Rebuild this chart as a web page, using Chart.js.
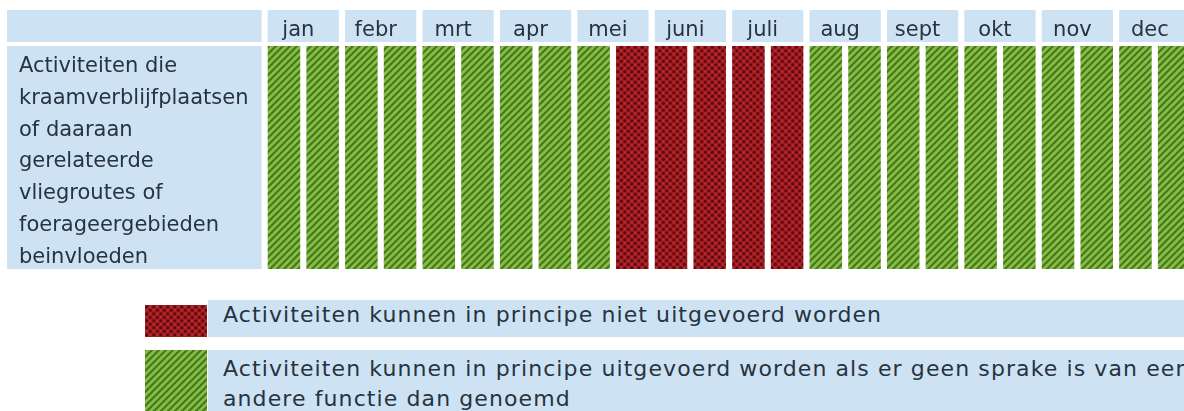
<!DOCTYPE html>
<html>
<head>
<meta charset="utf-8">
<script src="https://cdn.jsdelivr.net/npm/chart.js@4.4.1/dist/chart.umd.min.js"></script>
<style>
  html, body { margin: 0; padding: 0; background: #fff; }
  body { width: 1184px; height: 411px; overflow: hidden; position: relative; font-family: 'DejaVu Sans', Verdana, sans-serif; }
  #chartWrap { position: absolute; left: 0; top: 0; width: 1200px; height: 280px; }
  .legend-row { position: absolute; left: 208px; width: 1000px; background: #cde3f4; color: #27333f;
    font-size: 22px; letter-spacing: 1.1px; white-space: nowrap; line-height: 30px; padding-left: 15px; box-sizing: border-box; }
  .legend-swatch { position: absolute; left: 145px; width: 62px; }
</style>
</head>
<body>
<div id="chartWrap"><canvas id="chart" width="1200" height="280"></canvas></div>
<div id="legend"></div>
<script>
const months = ['jan', 'febr', 'mrt', 'apr', 'mei', 'juni', 'juli', 'aug', 'sept', 'okt', 'nov', 'dec'];
const halfMonths = [
  'jan I', 'jan II', 'febr I', 'febr II', 'mrt I', 'mrt II', 'apr I', 'apr II',
  'mei I', 'mei II', 'juni I', 'juni II', 'juli I', 'juli II', 'aug I', 'aug II',
  'sept I', 'sept II', 'okt I', 'okt II', 'nov I', 'nov II', 'dec I', 'dec II'
];
// 1 = period marked, 0 = not
const nietUitvoerbaar = [0, 0, 0, 0, 0, 0, 0, 0, 0, 1, 1, 1, 1, 1, 0, 0, 0, 0, 0, 0, 0, 0, 0, 0];
const uitvoerbaar     = [1, 1, 1, 1, 1, 1, 1, 1, 1, 0, 0, 0, 0, 0, 1, 1, 1, 1, 1, 1, 1, 1, 1, 1];
const rowLabel = [
  'Activiteiten die',
  'kraamverblijfplaatsen',
  'of daaraan',
  'gerelateerde',
  'vliegroutes of',
  'foerageergebieden',
  'beinvloeden'
];
const legendRed = ['Activiteiten kunnen in principe niet uitgevoerd worden'];
const legendGreen = [
  'Activiteiten kunnen in principe uitgevoerd worden als er geen sprake is van een',
  'andere functie dan genoemd'
];

const panelBlue = '#cde3f4';
const textColor = '#27333f';

function makeHatch(ctx) {
  const c = document.createElement('canvas');
  c.width = c.height = 7;
  const g = c.getContext('2d');
  g.fillStyle = '#84be40';
  g.fillRect(0, 0, 7, 7);
  g.strokeStyle = '#467522';
  g.lineWidth = 2;
  g.beginPath();
  g.moveTo(-1, 8); g.lineTo(8, -1);
  g.moveTo(-1, 1); g.lineTo(1, -1);
  g.moveTo(6, 8); g.lineTo(8, 6);
  g.stroke();
  return ctx.createPattern(c, 'repeat');
}

function makeCheck(ctx) {
  const c = document.createElement('canvas');
  c.width = c.height = 7;
  const g = c.getContext('2d');
  g.fillStyle = '#a11c21';
  g.fillRect(0, 0, 7, 7);
  g.fillStyle = '#5c0a0e';
  [[1.75, 1.75], [5.25, 5.25]].forEach(([x, y]) => {
    g.beginPath(); g.arc(x, y, 1.5, 0, Math.PI * 2); g.fill();
  });
  g.fillStyle = '#bd3035';
  [[5.25, 1.75], [1.75, 5.25]].forEach(([x, y]) => {
    g.beginPath(); g.arc(x, y, 1, 0, Math.PI * 2); g.fill();
  });
  return ctx.createPattern(c, 'repeat');
}

// light blue cells behind the month header and the row label
const panelPlugin = {
  id: 'panels',
  beforeDraw(chart) {
    const { ctx, chartArea } = chart;
    const bars = chart.getDatasetMeta(0).data;
    const headTop = 10, headBottom = chartArea.top - 4;
    ctx.save();
    ctx.fillStyle = panelBlue;
    const colLeft = 7, colRight = chartArea.left - 3;
    ctx.fillRect(colLeft, headTop, colRight - colLeft, headBottom - headTop);
    ctx.fillRect(colLeft, chartArea.top, colRight - colLeft, chartArea.bottom - chartArea.top);
    months.forEach((m, i) => {
      const a = bars[2 * i], b = bars[2 * i + 1];
      const x0 = a.x - a.width / 2, x1 = b.x + b.width / 2;
      ctx.fillRect(x0, headTop, x1 - x0, headBottom - headTop);
    });
    ctx.fillStyle = textColor;
    ctx.font = '21px "DejaVu Sans"';
    ctx.textBaseline = 'alphabetic';
    rowLabel.forEach((line, i) => ctx.fillText(line, 19, 72 + i * 31.8));
    ctx.restore();
  }
};

const canvas = document.getElementById('chart');
const ctx = canvas.getContext('2d');
const redFill = makeCheck(ctx);
const greenFill = makeHatch(ctx);

const chart = new Chart(ctx, {
  type: 'bar',
  data: {
    labels: halfMonths,
    datasets: [
      {
        label: legendRed.join(' '),
        data: nietUitvoerbaar,
        backgroundColor: redFill,
        borderWidth: 0,
        barPercentage: 0.84,
        categoryPercentage: 1
      },
      {
        label: legendGreen.join(' '),
        data: uitvoerbaar,
        backgroundColor: greenFill,
        borderWidth: 0,
        barPercentage: 0.84,
        categoryPercentage: 1
      }
    ]
  },
  options: {
    responsive: false,
    animation: false,
    layout: { padding: { left: 264.6, right: 6.5, top: 0, bottom: 11 } },
    plugins: { legend: { display: false }, tooltip: { enabled: false } },
    scales: {
      x: { display: false, stacked: true },
      months: {
        type: 'category',
        labels: months,
        position: 'top',
        offset: true,
        grid: { display: false, drawTicks: false },
        border: { display: false },
        ticks: {
          color: textColor,
          padding: 3,
          labelOffset: -5,
          maxRotation: 0,
          autoSkip: false,
          font: { family: "'DejaVu Sans'", size: 21 }
        },
        afterFit: s => { s.height = 46; }
      },
      y: { display: false, stacked: true, min: 0, max: 1 }
    }
  },
  plugins: [panelPlugin]
});

// html legend built from the datasets
const legendEl = document.getElementById('legend');
const rows = [
  { lines: legendRed, fill: chart.data.datasets[0].backgroundColor, top: 300, h: 37, sw: [305, 32], pad: 0 },
  { lines: legendGreen, fill: chart.data.datasets[1].backgroundColor, top: 350, h: 61, sw: [350, 61], pad: 4 }
];
rows.forEach(r => {
  const sw = document.createElement('canvas');
  sw.className = 'legend-swatch';
  sw.width = 62; sw.height = r.sw[1];
  sw.style.top = r.sw[0] + 'px';
  const sctx = sw.getContext('2d');
  sctx.fillStyle = r.fill;
  sctx.fillRect(0, 0, sw.width, sw.height);
  legendEl.appendChild(sw);
  const row = document.createElement('div');
  row.className = 'legend-row';
  row.style.top = r.top + 'px';
  row.style.height = r.h + 'px';
  row.style.paddingTop = r.pad + 'px';
  row.innerHTML = r.lines.join('<br>');
  legendEl.appendChild(row);
});
</script>
</body>
</html>
